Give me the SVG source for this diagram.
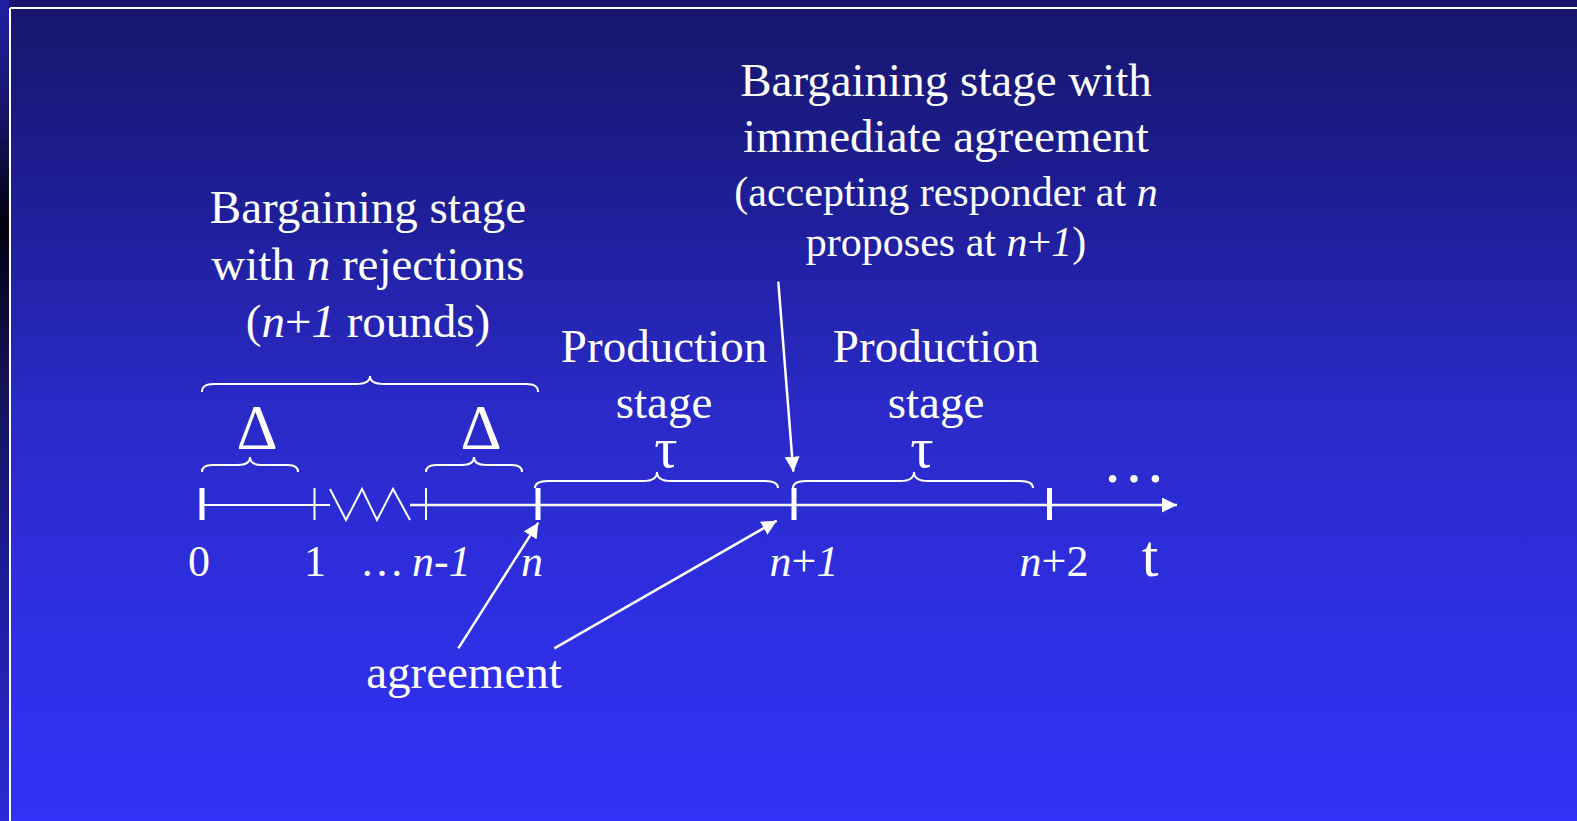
<svg xmlns="http://www.w3.org/2000/svg" width="1577" height="821" viewBox="0 0 1577 821">
<defs>
<linearGradient id="bg" x1="0" y1="0" x2="0" y2="1">
<stop offset="0" stop-color="#16166a"/>
<stop offset="0.25" stop-color="#1e1e98"/>
<stop offset="0.5" stop-color="#2a2ac8"/>
<stop offset="0.75" stop-color="#2e2ee2"/>
<stop offset="1" stop-color="#3232f8"/>
</linearGradient>
<linearGradient id="strip" x1="0" y1="0" x2="0" y2="1">
<stop offset="0" stop-color="#2020a8"/>
<stop offset="0.15" stop-color="#141460"/>
<stop offset="0.27" stop-color="#000010"/>
<stop offset="0.45" stop-color="#121250"/>
<stop offset="0.7" stop-color="#1c1c98"/>
<stop offset="1" stop-color="#2a2ad8"/>
</linearGradient>
<marker id="ah" markerUnits="userSpaceOnUse" markerWidth="16" markerHeight="16" refX="15" refY="7.5" orient="auto">
<path d="M0,0 L15,7.5 L0,15 z" fill="#fff"/>
</marker>
<style>
.t{font-family:"Liberation Serif","Times New Roman",serif;fill:#fff;}
.big{font-size:47px;}
.med{font-size:42px;}
.lab{font-size:44px;}
.tau{font-size:58px;}
.i{font-style:italic;}
.br{fill:none;stroke:#fff;stroke-width:2;}
.ax{stroke:#fff;fill:none;}
.con{stroke:#fff;stroke-width:2.5;fill:none;marker-end:url(#ah);}
</style>
</defs>
<rect width="1577" height="821" fill="url(#bg)"/>
<rect x="0" y="0" width="9" height="821" fill="url(#strip)"/>
<line x1="10" y1="8" x2="1577" y2="8" stroke="#fff" stroke-width="2"/>
<line x1="10" y1="8" x2="10" y2="821" stroke="#fff" stroke-width="2"/>

<g id="title-left">
<text class="t big" x="368" y="223" text-anchor="middle">Bargaining stage</text>
<text class="t big" x="368" y="280" text-anchor="middle">with <tspan class="i">n</tspan> rejections</text>
<text class="t big" x="368" y="337" text-anchor="middle">(<tspan class="i">n</tspan>+<tspan class="i">1</tspan> rounds)</text>
</g>
<g id="title-right">
<text class="t big" x="946" y="96" text-anchor="middle">Bargaining stage with</text>
<text class="t big" x="946" y="152" text-anchor="middle">immediate agreement</text>
<text class="t med" x="946" y="206" text-anchor="middle">(accepting responder at <tspan class="i">n</tspan></text>
<text class="t med" x="946" y="256" text-anchor="middle">proposes at <tspan class="i">n</tspan>+<tspan class="i">1</tspan>)</text>
</g>
<g id="prod1">
<text class="t big" x="664" y="362" text-anchor="middle">Production</text>
<text class="t big" x="664" y="418" text-anchor="middle">stage</text>
<text class="t tau" x="666" y="467" text-anchor="middle">τ</text>
</g>
<g id="prod2">
<text class="t big" x="936" y="362" text-anchor="middle">Production</text>
<text class="t big" x="936" y="418" text-anchor="middle">stage</text>
<text class="t tau" x="922" y="467" text-anchor="middle">τ</text>
</g>
<g id="braces">
<path class="br" d="M202,392 C202,386 206,384 214,384 L356,384 C364,384 370,382 370,376 C370,382 376,384 384,384 L526,384 C534,384 538,386 538,392"/>
<path class="br" d="M202,472 C202,467 205,465 212,465 L238,465 C245,465 250,463 250,457 C250,463 255,465 262,465 L288,465 C295,465 298,467 298,472"/>
<path class="br" d="M426,472 C426,467 429,465 436,465 L462,465 C469,465 474,463 474,457 C474,463 479,465 486,465 L512,465 C519,465 522,467 522,472"/>
<path class="br" d="M535,488 C535,483 539,481 548,481 L643,481 C651,481 657,479 657,472 C657,479 663,481 671,481 L765,481 C774,481 778,483 778,488"/>
<path class="br" d="M793,488 C793,483 797,481 806,481 L900,481 C908,481 914,479 914,472 C914,479 920,481 928,481 L1020,481 C1029,481 1033,483 1033,488"/>
</g>
<g id="deltas">
<text class="t" style="font-size:64px" x="257" y="449" text-anchor="middle">Δ</text>
<text class="t" style="font-size:64px" x="481" y="449" text-anchor="middle">Δ</text>
</g>
<g id="axis">
<line class="ax" x1="202" y1="505" x2="330" y2="505" stroke-width="2"/>
<polyline class="ax" stroke-width="2" points="330,489 346,520 362,489 377,520 393,489 410,520"/>
<line class="ax" x1="410" y1="505" x2="1177" y2="505" stroke-width="2.6" marker-end="url(#ah)"/>
<line class="ax" x1="202" y1="488" x2="202" y2="520" stroke-width="5"/>
<line class="ax" x1="314.5" y1="488" x2="314.5" y2="520" stroke-width="2"/>
<line class="ax" x1="426" y1="488" x2="426" y2="520" stroke-width="2"/>
<line class="ax" x1="538" y1="488" x2="538" y2="520" stroke-width="5"/>
<line class="ax" x1="794" y1="488" x2="794" y2="520" stroke-width="5"/>
<line class="ax" x1="1049.5" y1="488" x2="1049.5" y2="520" stroke-width="5"/>
<text class="t" style="font-size:64px" x="1134" y="482" text-anchor="middle">…</text>
</g>
<g id="tick-labels">
<text class="t lab" x="199" y="576" text-anchor="middle">0</text>
<text class="t lab" x="315" y="576" text-anchor="middle">1</text>
<text class="t lab" x="360" y="576">…</text>
<text class="t lab i" x="412" y="576">n-1</text>
<text class="t lab i" x="532" y="576" text-anchor="middle">n</text>
<text class="t lab" x="804" y="576" text-anchor="middle"><tspan class="i">n</tspan>+<tspan class="i">1</tspan></text>
<text class="t lab" x="1054" y="576" text-anchor="middle"><tspan class="i">n</tspan>+2</text>
<text class="t" style="font-size:60px" x="1150" y="576" text-anchor="middle">t</text>
</g>
<g id="agreement">
<text class="t big" x="464" y="688" text-anchor="middle">agreement</text>
</g>
<g id="connectors">
<line class="con" x1="778.3" y1="281.7" x2="793.3" y2="471.7"/>
<line class="con" x1="458.3" y1="648.3" x2="538.3" y2="522.7"/>
<line class="con" x1="554.3" y1="648.3" x2="776.7" y2="520.7"/>
</g>
</svg>
